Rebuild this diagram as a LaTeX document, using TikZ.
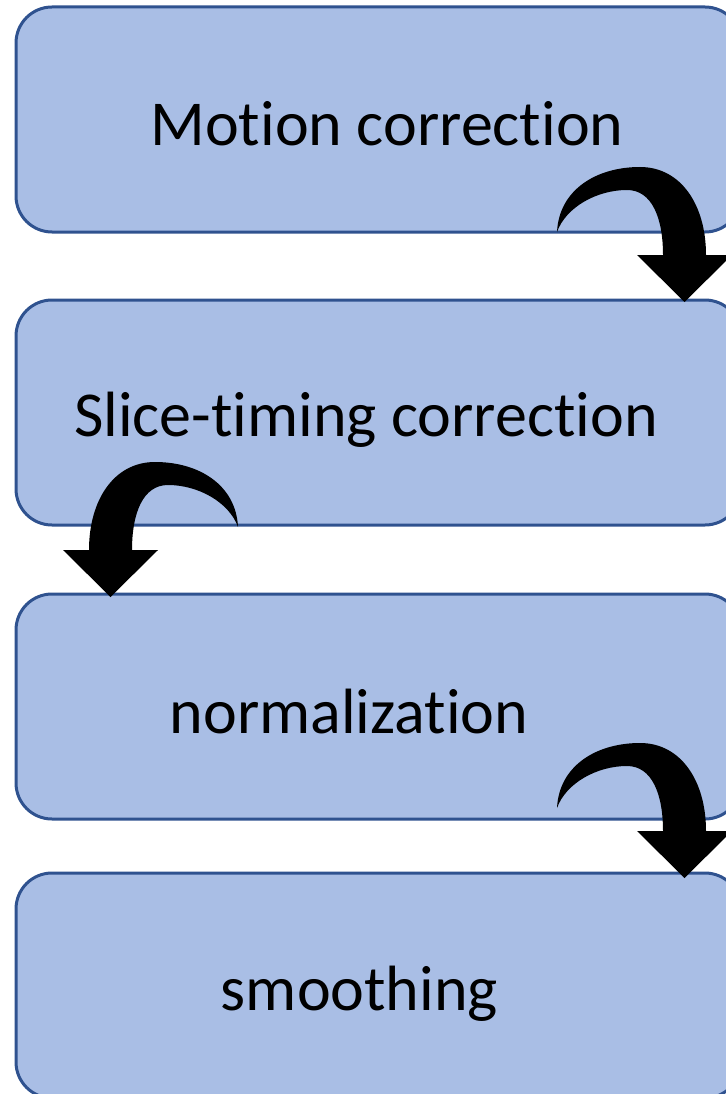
\documentclass[tikz,border=0pt]{standalone}
\usepackage{fontspec}
\setmainfont{Carlito}[RawFeature=-liga]
\usetikzlibrary{calc}
\definecolor{boxfill}{RGB}{169,190,229}
\definecolor{boxline}{RGB}{47,82,143}

\begin{document}
\begin{tikzpicture}[x=1pt, y=-1pt]
\tikzstyle{stage}=[draw=boxline, line width=3pt, fill=boxfill, rounded corners=36pt, minimum width=725pt, minimum height=225pt, inner sep=0pt]
\tikzstyle{lbl}=[font=\fontsize{64}{77}\selectfont, anchor=base, inner sep=0pt]
\useasboundingbox (0,0) rectangle (725,1094);
% the four stages
\node[stage] (motion) at (378.5,119.5) {};
\node[stage] (slice) at (378.5,412.5) {};
\node[stage] (norm) at (378.5,706.5) {};
\node[stage] (smooth) at (378.5,985.5) {};
\node[lbl] (tmotion) at ($(motion.center)+(8.5,26)$) {Motion correction};
\node[lbl] (tslice) at ($(slice.center)+(-12.5,24)$) {Slice-timing correction};
\node[lbl] (tnorm) at ($(norm.center)+(-29.5,27)$) {normalization};
\node[lbl] (tsmooth) at ($(smooth.center)+(-19,25)$) {smoothing};
% bent block arrows between the stages
\foreach \dx/\dy/\s in {0/0/1, 795/295/-1, 0/576/1}{
\begin{scope}[shift={(\dx,\dy)}, xscale=\s]
\fill (557,232) .. controls (559,190) and (596,167) .. (640,167)
  .. controls (681,167) and (706,205) .. (706,255)
  -- (732,255) -- (684.5,302) -- (637,255) -- (663,255)
  .. controls (663,218) and (652,190) .. (627,190)
  .. controls (597,190) and (566,207) .. cycle;
\end{scope}
}
\end{tikzpicture}
\end{document}
